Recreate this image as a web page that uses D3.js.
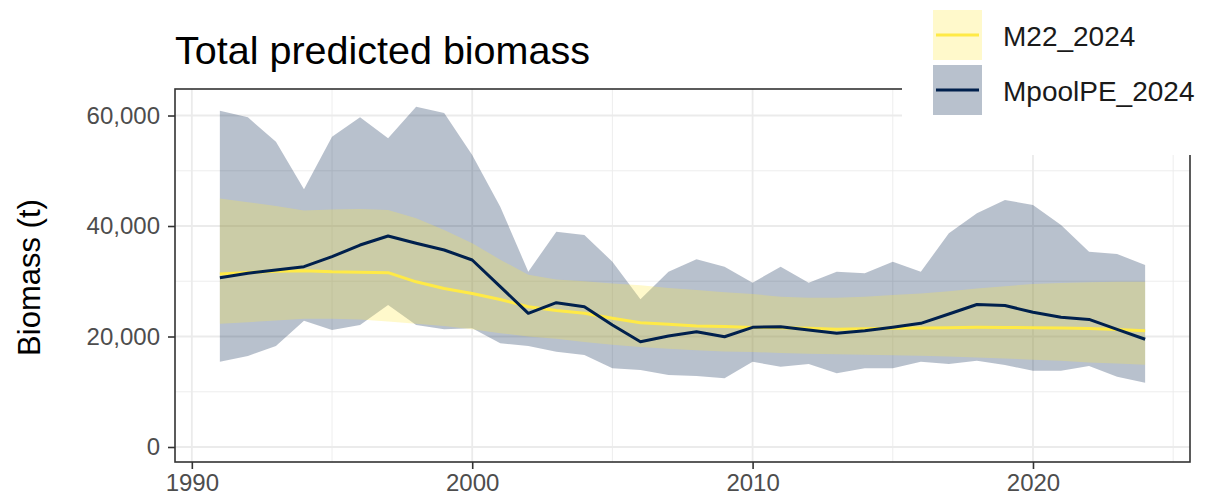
<!DOCTYPE html>
<html>
<head>
<meta charset="utf-8">
<script src="https://cdn.jsdelivr.net/npm/d3@7"></script>
<style>
  html, body { margin: 0; padding: 0; background: #ffffff; }
  svg { display: block; font-family: "Liberation Sans", Arial, sans-serif; }
</style>
</head>
<body>
<svg id="chart" width="1219" height="500"></svg>
<script>
// Annual biomass estimates (t) from two model runs
const years = [1991, 1992, 1993, 1994, 1995, 1996, 1997, 1998, 1999, 2000,
               2001, 2002, 2003, 2004, 2005, 2006, 2007, 2008, 2009, 2010,
               2011, 2012, 2013, 2014, 2015, 2016, 2017, 2018, 2019, 2020,
               2021, 2022, 2023, 2024];

const m22Mean = [31300, 31600, 31800, 31900, 31700, 31650, 31560, 29900, 28700, 27800,
                 26700, 25400, 24700, 24200, 23300, 22500, 22200, 21900, 21800, 21650,
                 21600, 21500, 21300, 21400, 21480, 21550, 21600, 21660, 21650, 21600,
                 21550, 21450, 21250, 21050];
const m22Low  = [22300, 22600, 22900, 23200, 23200, 23100, 22700, 22300, 21900, 21300,
                 20600, 20000, 19600, 19000, 18500, 18100, 17800, 17500, 17300, 17200,
                 17000, 16900, 16800, 16700, 16600, 16500, 16400, 16200, 16000, 15800,
                 15600, 15300, 15100, 14900];
const m22High = [45000, 44300, 43600, 42800, 43000, 43100, 42900, 41400, 39300, 36900,
                 33900, 31200, 30300, 30000, 29600, 29300, 28800, 28400, 28000, 27700,
                 27200, 27000, 27000, 27200, 27500, 27800, 28200, 28700, 29100, 29500,
                 29700, 29800, 29900, 29900];

const poolMean = [30650, 31440, 32040, 32640, 34450, 36560, 38190, 36870, 35660, 33850,
                  29020, 24200, 26120, 25400, 22080, 19060, 20090, 20870, 19960, 21660,
                  21780, 21180, 20580, 21050, 21660, 22380, 24070, 25800, 25600, 24400,
                  23500, 23100, 21300, 19500];
const poolLow  = [15440, 16470, 18280, 22860, 21180, 22080, 25700, 22080, 21300, 21480,
                  18770, 18280, 17250, 16650, 14240, 13940, 13030, 12850, 12430, 15440,
                  14530, 15020, 13330, 14240, 14240, 15440, 15020, 15620, 14840, 13810,
                  13810, 14660, 12720, 11640];
const poolHigh = [60870, 59670, 55260, 46640, 56160, 59670, 55870, 61590, 60450, 52850,
                  43500, 31730, 38970, 38370, 33540, 26730, 31730, 33970, 32640, 29740,
                  32640, 29740, 31730, 31440, 33540, 31730, 38680, 42300, 44710, 43800,
                  40180, 35350, 34930, 32940];

const seriesNames = ["M22_2024", "MpoolPE_2024"];
const seriesColors = ["#FFEA46", "#00204D"];
const bandOpacity = 0.28;

const xTicks = [1990, 2000, 2010, 2020];
const xMinor = [1995, 2005, 2015, 2025];
const yTicks = [0, 20000, 40000, 60000];
const yMinor = [10000, 30000, 50000];

// Panel geometry
const panel = { left: 175, right: 1190, top: 89, bottom: 462 };

const svg = d3.select("#chart");

const x = d3.scaleLinear().domain([1989.4, 2025.6]).range([panel.left, panel.right]);
const y = d3.scaleLinear().domain([-2715, 64800]).range([panel.bottom, panel.top]);

// Title
svg.append("text")
  .attr("x", panel.left)
  .attr("y", 64)
  .attr("font-size", 39.5)
  .attr("fill", "#000")
  .text("Total predicted biomass");

// Grid lines
const grid = svg.append("g");
grid.selectAll("line.ymin").data(yMinor).join("line")
  .attr("x1", panel.left).attr("x2", panel.right)
  .attr("y1", d => y(d)).attr("y2", d => y(d))
  .attr("stroke", "#EBEBEB").attr("stroke-width", 0.9);
grid.selectAll("line.xmin").data(xMinor).join("line")
  .attr("y1", panel.top).attr("y2", panel.bottom)
  .attr("x1", d => x(d)).attr("x2", d => x(d))
  .attr("stroke", "#EBEBEB").attr("stroke-width", 0.9);
grid.selectAll("line.ymaj").data(yTicks).join("line")
  .attr("x1", panel.left).attr("x2", panel.right)
  .attr("y1", d => y(d)).attr("y2", d => y(d))
  .attr("stroke", "#EBEBEB").attr("stroke-width", 1.8);
grid.selectAll("line.xmaj").data(xTicks).join("line")
  .attr("y1", panel.top).attr("y2", panel.bottom)
  .attr("x1", d => x(d)).attr("x2", d => x(d))
  .attr("stroke", "#EBEBEB").attr("stroke-width", 1.8);

// Data rows per series
const m22 = years.map((yr, i) => ({ yr, mean: m22Mean[i], lo: m22Low[i], hi: m22High[i] }));
const pool = years.map((yr, i) => ({ yr, mean: poolMean[i], lo: poolLow[i], hi: poolHigh[i] }));
const series = [m22, pool];

const area = d3.area().x(d => x(d.yr)).y0(d => y(d.lo)).y1(d => y(d.hi));
const line = d3.line().x(d => x(d.yr)).y(d => y(d.mean));

const marks = svg.append("g");
// Wide pooled band underneath, narrower M22 band on top
[1, 0].forEach(i => {
  marks.append("path")
    .datum(series[i])
    .attr("d", area)
    .attr("fill", seriesColors[i])
    .attr("fill-opacity", bandOpacity);
});
series.forEach((s, i) => {
  marks.append("path")
    .datum(s)
    .attr("d", line)
    .attr("fill", "none")
    .attr("stroke", seriesColors[i])
    .attr("stroke-width", 3)
    .attr("stroke-linejoin", "round");
});

// Panel border
svg.append("rect")
  .attr("x", panel.left).attr("y", panel.top)
  .attr("width", panel.right - panel.left).attr("height", panel.bottom - panel.top)
  .attr("fill", "none").attr("stroke", "#333333").attr("stroke-width", 1.6);

// Axes
const yAxis = svg.append("g")
  .attr("transform", `translate(${panel.left},0)`)
  .call(d3.axisLeft(y).tickValues(yTicks).tickFormat(d3.format(",")).tickSize(7).tickPadding(8));
const xAxis = svg.append("g")
  .attr("transform", `translate(0,${panel.bottom})`)
  .call(d3.axisBottom(x).tickValues(xTicks).tickFormat(d3.format("d")).tickSize(7).tickPadding(5));
[yAxis, xAxis].forEach(a => {
  a.select(".domain").remove();
  a.selectAll(".tick line").attr("stroke", "#333333").attr("stroke-width", 1.6);
  a.selectAll(".tick text")
    .attr("fill", "#4D4D4D")
    .attr("font-size", 24)
    .attr("font-family", "'Liberation Sans', Arial, sans-serif");
});

// Y axis title
svg.append("text")
  .attr("transform", `translate(40,${(panel.top + panel.bottom) / 2 + 2}) rotate(-90)`)
  .attr("text-anchor", "middle")
  .attr("font-size", 31)
  .attr("fill", "#000")
  .text("Biomass (t)");

// Legend (white box over the panel corner)
const legend = svg.append("g");
legend.append("rect")
  .attr("x", 902).attr("y", 0).attr("width", 317).attr("height", 155)
  .attr("fill", "#ffffff");
seriesNames.forEach((name, i) => {
  const ky = 10 + i * 55;
  legend.append("rect")
    .attr("x", 933).attr("y", ky).attr("width", 49).attr("height", 50)
    .attr("fill", seriesColors[i]).attr("fill-opacity", bandOpacity);
  legend.append("line")
    .attr("x1", 936).attr("x2", 979)
    .attr("y1", ky + 25).attr("y2", ky + 25)
    .attr("stroke", seriesColors[i]).attr("stroke-width", 3);
  legend.append("text")
    .attr("x", 1003).attr("y", ky + 36)
    .attr("font-size", 28)
    .attr("fill", "#1a1a1a")
    .text(name);
});
</script>
</body>
</html>
